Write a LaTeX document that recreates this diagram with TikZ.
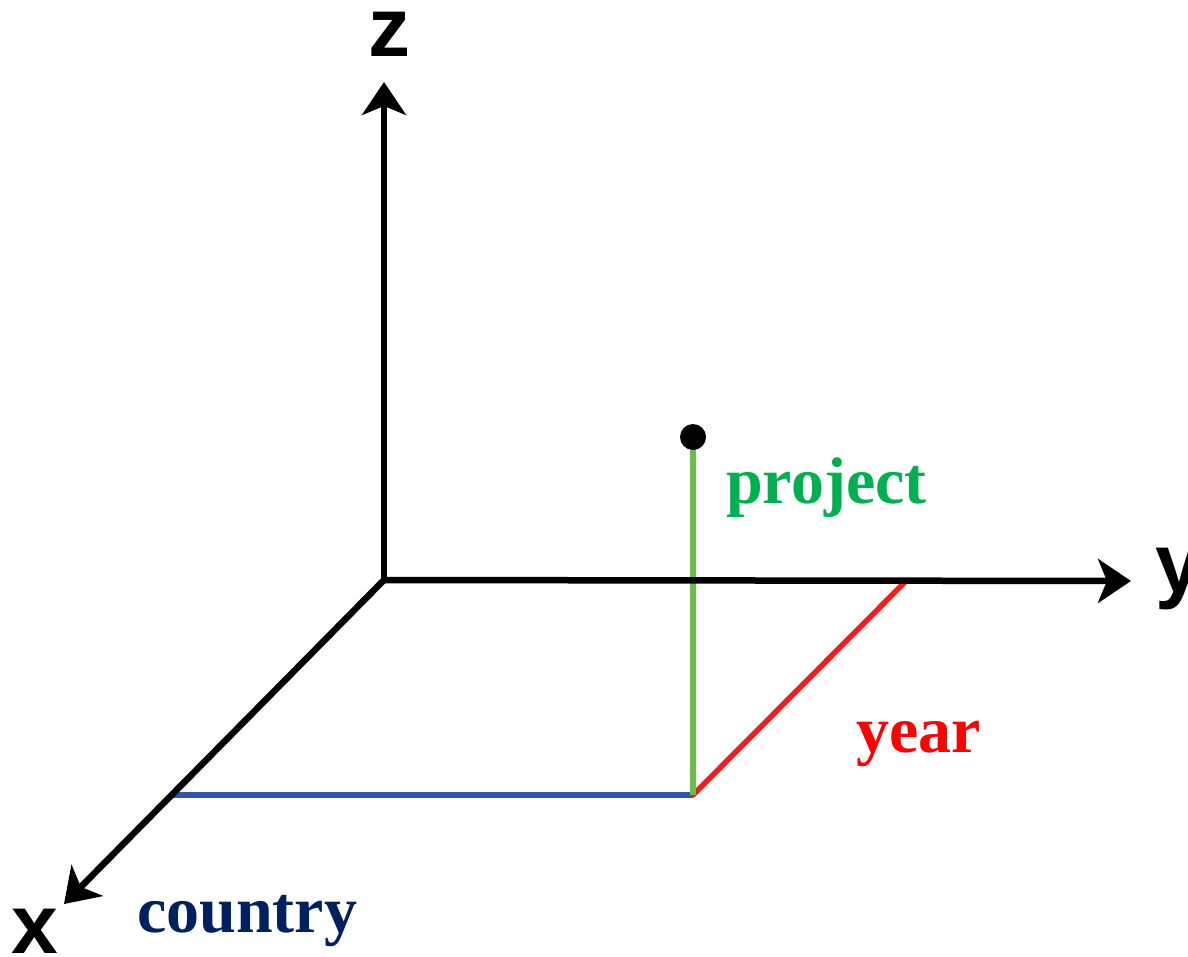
\documentclass[tikz,border=0pt]{standalone}
\usepackage{fontspec}
\setmainfont{Liberation Serif}
\newfontfamily\axfont{Liberation Sans}
\usetikzlibrary{arrows.meta}
\definecolor{projgreen}{HTML}{00B050}
\definecolor{linegreen}{HTML}{6CBF45}
\definecolor{lineblue}{HTML}{3455A8}
\definecolor{linered}{HTML}{F01E1E}
\definecolor{navy}{HTML}{002060}
\tikzset{
  axis/.style={line width=6.5pt,black,-{Stealth[length=33pt,width=44pt,inset=9pt]}},
  axlabel/.style={inner sep=0pt,font=\axfont\bfseries\fontsize{84}{84}\selectfont},
  lbl/.style={inner sep=0pt,anchor=base west,font=\bfseries\fontsize{66}{66}\selectfont},
  proj/.style={line width=5.5pt}
}
\begin{document}
\begin{tikzpicture}[x=1pt,y=-1pt]
\useasboundingbox (0,0) rectangle (1188,957);
\coordinate (O) at (384,580);
\coordinate (ztip) at (384,82);
\coordinate (ytip) at (1131,581);
\coordinate (xtip) at (64,904);
\coordinate (P) at (693,795);
\coordinate (xb) at (173,795);
\coordinate (yb) at (905,582);
\coordinate (pt) at (693,437);
% projections
\draw[proj,lineblue] (xb) -- (P);
\draw[proj,linered,line cap=round] (P) -- (yb);
\draw[proj,linegreen] (P) -- (pt);
\fill[black] (pt) circle (13);
% axes
\draw[axis] (O) -- (ztip);
\draw[axis] (O) -- (ytip);
\draw[axis] (O) -- (xtip);
\draw[line width=6.5pt] (O) ++(-3,0) -- ++(6,0);
% labels
\node[axlabel,anchor=base] (zl) at (389,57) {z};
\node[axlabel,anchor=base west] (yl) at (1155,592) {y};
\node[axlabel,anchor=base west] (xl) at (11,953) {x};
\node[lbl,text=projgreen] (lp) at (726,503) {project};
\node[lbl,text=red] (ly) at (856,752) {year};
\node[lbl,text=navy] (lc) at (137,932) {country};
\end{tikzpicture}
\end{document}
